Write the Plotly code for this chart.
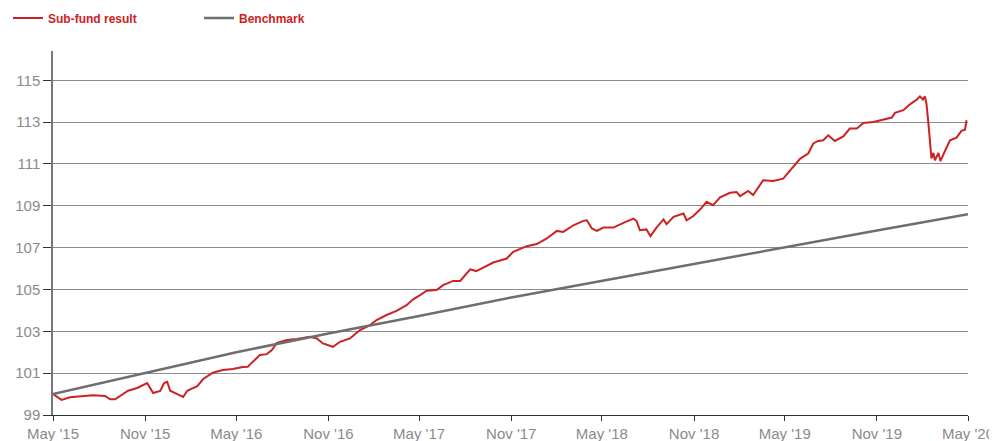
import plotly.graph_objects as go

# Sub-fund result (indexed)
fund_dates = [
    "2015-05-01", "2015-05-18", "2015-06-04", "2015-06-30", "2015-07-20", "2015-08-13",
    "2015-08-23", "2015-09-02", "2015-09-12", "2015-09-28", "2015-10-16", "2015-11-05",
    "2015-11-11", "2015-11-17", "2015-12-01", "2015-12-09", "2015-12-15", "2015-12-21",
    "2016-01-04", "2016-01-16", "2016-01-24", "2016-02-13", "2016-02-25", "2016-03-15",
    "2016-04-04", "2016-04-24", "2016-05-14", "2016-05-24", "2016-06-03", "2016-06-17",
    "2016-07-01", "2016-07-11", "2016-07-21", "2016-08-10", "2016-08-30", "2016-09-25",
    "2016-10-09", "2016-10-21", "2016-11-10", "2016-11-24", "2016-12-14", "2017-01-03",
    "2017-01-23", "2017-02-05", "2017-02-25", "2017-03-17", "2017-04-06", "2017-04-19",
    "2017-05-03", "2017-05-16", "2017-06-05", "2017-06-18", "2017-07-08", "2017-07-22",
    "2017-08-11", "2017-08-23", "2017-09-06", "2017-09-26", "2017-10-23", "2017-11-05",
    "2017-12-02", "2017-12-22", "2018-01-11", "2018-01-31", "2018-02-13", "2018-03-05",
    "2018-03-25", "2018-04-01", "2018-04-11", "2018-04-21", "2018-05-04", "2018-05-24",
    "2018-06-13", "2018-07-03", "2018-07-09", "2018-07-16", "2018-07-29", "2018-08-06",
    "2018-08-18", "2018-09-01", "2018-09-07", "2018-09-21", "2018-10-11", "2018-10-17",
    "2018-10-30", "2018-11-13", "2018-11-26", "2018-12-09", "2018-12-23", "2019-01-12",
    "2019-01-25", "2019-02-01", "2019-02-17", "2019-02-27", "2019-03-19", "2019-04-08",
    "2019-04-28", "2019-05-18", "2019-06-01", "2019-06-17", "2019-06-27", "2019-07-07",
    "2019-07-17", "2019-07-27", "2019-08-09", "2019-08-26", "2019-09-08", "2019-09-22",
    "2019-10-05", "2019-10-25", "2019-11-14", "2019-12-01", "2019-12-07", "2019-12-24",
    "2020-01-06", "2020-01-20", "2020-01-26", "2020-02-01", "2020-02-05", "2020-02-08",
    "2020-02-12", "2020-02-15", "2020-02-18", "2020-02-22", "2020-02-25", "2020-03-03",
    "2020-03-07", "2020-03-16", "2020-03-26", "2020-04-08", "2020-04-18", "2020-04-25",
    "2020-04-28",
]
fund_values = [
    100.00, 99.72, 99.85, 99.91, 99.95, 99.91,
    99.75, 99.75, 99.91, 100.16, 100.29, 100.53,
    100.29, 100.05, 100.15, 100.53, 100.59, 100.16,
    100.00, 99.86, 100.16, 100.38, 100.72, 101.02,
    101.15, 101.20, 101.29, 101.31, 101.55, 101.87,
    101.91, 102.10, 102.45, 102.58, 102.63, 102.74,
    102.66, 102.42, 102.26, 102.50, 102.66, 103.06,
    103.30, 103.54, 103.78, 103.98, 104.25, 104.53,
    104.73, 104.94, 104.97, 105.21, 105.41, 105.41,
    105.96, 105.88, 106.04, 106.29, 106.48, 106.80,
    107.07, 107.17, 107.44, 107.80, 107.75, 108.07,
    108.28, 108.31, 107.92, 107.80, 107.96, 107.96,
    108.18, 108.39, 108.28, 107.83, 107.87, 107.55,
    107.96, 108.35, 108.12, 108.47, 108.63, 108.31,
    108.50, 108.82, 109.19, 109.03, 109.41, 109.62,
    109.66, 109.46, 109.71, 109.51, 110.22, 110.19,
    110.30, 110.89, 111.26, 111.50, 111.98, 112.10,
    112.13, 112.37, 112.10, 112.32, 112.69, 112.69,
    112.96, 113.01, 113.12, 113.22, 113.44, 113.57,
    113.85, 114.08, 114.23, 114.08, 114.23, 113.89,
    112.93, 112.21, 111.26, 111.53, 111.18, 111.53,
    111.14, 111.62, 112.13, 112.26, 112.58, 112.64,
    113.09,
]

# Benchmark
bench_dates = [
    "2015-05-01", "2015-11-01", "2016-05-01", "2016-11-01", "2017-05-01", "2017-11-01",
    "2018-05-01", "2018-11-01", "2019-05-01", "2019-11-01", "2020-05-01",
]
bench_values = [100.0, 101.0, 102.0, 102.9, 103.73, 104.62, 105.42, 106.24, 107.02, 107.82, 108.6]

series_names = ["Sub-fund result", "Benchmark"]
y_ticks = [99, 101, 103, 105, 107, 109, 111, 113, 115]

RED = "#cc2222"
GRAY = "#6e6e6e"

fig = go.Figure()
fig.add_trace(go.Scatter(x=fund_dates, y=fund_values, mode="lines", name=series_names[0],
                         line=dict(color=RED, width=2)))
fig.add_trace(go.Scatter(x=bench_dates, y=bench_values, mode="lines", name=series_names[1],
                         line=dict(color=GRAY, width=2.5)))

fig.update_layout(
    width=997, height=441,
    margin=dict(l=45, r=37, t=43, b=34),
    paper_bgcolor="white", plot_bgcolor="white",
    font=dict(family="Liberation Sans, Arial, sans-serif", color="#8a8a8a", size=15),
    showlegend=True,
    legend=dict(
        orientation="h", xref="container", yref="container",
        x=0.0, y=0.9773, xanchor="left", yanchor="middle",
        font=dict(family="Liberation Sans Narrow, Arial Narrow, Liberation Sans, sans-serif",
                  color=RED, size=12, weight="bold"),
        entrywidth=146, entrywidthmode="pixels",
        itemwidth=30, tracegroupgap=0, bgcolor="rgba(0,0,0,0)",
    ),
    xaxis=dict(
        type="date", range=["2015-05-01", "2020-05-01"],
        tick0="2015-05-01", dtick="M6", tickformat="%b '%y",
        showgrid=False, showline=True, linecolor="#333333", linewidth=1,
        ticks="outside", ticklen=5, tickcolor="#333333", tickwidth=1,
        tickfont=dict(size=15, color="#8a8a8a"), automargin=False, zeroline=False,
    ),
    yaxis=dict(
        range=[99, 116.4], tickvals=y_ticks,
        showgrid=True, gridcolor="#8c8c8c", gridwidth=1,
        showline=True, linecolor="#777777", linewidth=1.5,
        ticks="outside", ticklen=8, tickcolor="#333333", tickwidth=1,
        tickfont=dict(size=15, color="#8a8a8a"), automargin=False, zeroline=False,
    ),
)

fig.write_html("out.html")
